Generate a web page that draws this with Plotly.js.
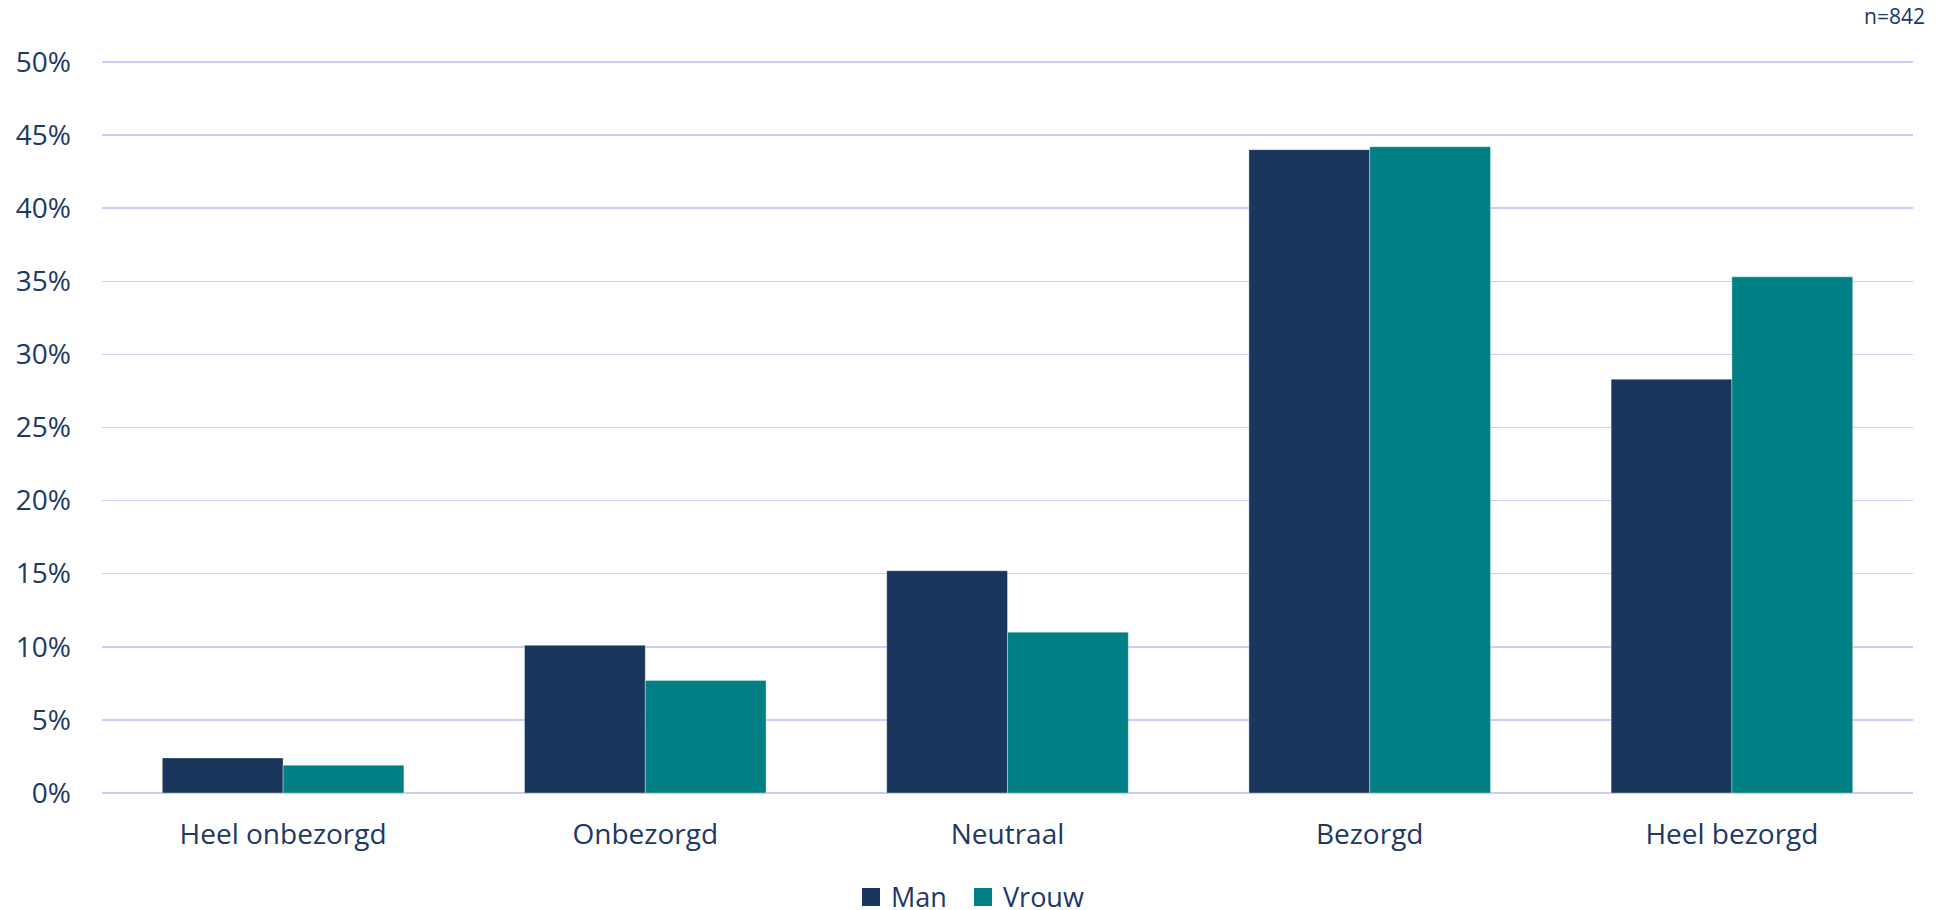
<!DOCTYPE html>
<html>
<head>
<meta charset="utf-8">
<script src="https://cdn.plot.ly/plotly-3.0.1.min.js"></script>
<style>html,body{margin:0;padding:0;background:#fff;}#chart{width:1950px;height:910px;}</style>
</head>
<body>
<div id="chart"></div>
<script>
const categories = ["Heel onbezorgd", "Onbezorgd", "Neutraal", "Bezorgd", "Heel bezorgd"];
const seriesNames = ["Man", "Vrouw"];
const manValues = [2.4, 10.1, 15.2, 44.0, 28.3];
const vrouwValues = [1.9, 7.7, 11.0, 44.2, 35.3];
const yTickVals = [0, 5, 10, 15, 20, 25, 30, 35, 40, 45, 50];
const yTickText = ["0%", "5%", "10%", "15%", "20%", "25%", "30%", "35%", "40%", "45%", "50%"];
const sampleNote = "n=842";

const textColor = "#203864";
const gridColor = "#C8CEF7";
const seriesColors = ["#1B365D", "#008084"];
const fontFam = "'Open Sans', sans-serif";

const W = 1950, H = 910;
const M = {l: 102, r: 37, t: 59, b: 117};
const plotW = W - M.l - M.r, plotH = H - M.t - M.b;
const px = v => (v - M.l) / plotW;            // page x -> paper x
const py = v => (H - M.b - v) / plotH;        // page y -> paper y

const traces = [
  {
    type: "bar", name: seriesNames[0], x: categories, y: manValues,
    marker: {color: seriesColors[0], line: {color: "rgba(255,255,255,0.35)", width: 1}},
    hoverinfo: "skip"
  },
  {
    type: "bar", name: seriesNames[1], x: categories, y: vrouwValues,
    marker: {color: seriesColors[1], line: {color: "rgba(255,255,255,0.35)", width: 1}},
    hoverinfo: "skip"
  }
];

// custom legend (square swatches like the reference)
const legendItems = [{sq: 862, tx: 890}, {sq: 974, tx: 1002}];
const shapes = legendItems.map((it, i) => ({
  type: "rect", xref: "paper", yref: "paper",
  x0: px(it.sq), x1: px(it.sq + 18), y0: py(906), y1: py(888),
  fillcolor: seriesColors[i], line: {width: 0}
}));
const legendAnn = legendItems.map((it, i) => ({
  text: seriesNames[i], xref: "paper", yref: "paper",
  x: px(it.tx), xanchor: "left", y: py(896), yanchor: "middle",
  height: 26, valign: "middle", borderpad: 0,
  showarrow: false, font: {family: fontFam, size: 27, color: textColor}
}));

const layout = {
  width: W, height: H,
  margin: {l: M.l, r: M.r, t: M.t, b: M.b, pad: 0},
  paper_bgcolor: "#ffffff", plot_bgcolor: "#ffffff",
  font: {family: fontFam, color: textColor, size: 28},
  barmode: "group",
  bargap: 0.333,
  bargroupgap: 0,
  xaxis: {
    type: "category",
    showgrid: false, zeroline: false, showline: false,
    ticks: "", ticklabelstandoff: 22,
    tickfont: {family: fontFam, size: 28, color: textColor}
  },
  yaxis: {
    range: [0, 50.2],
    tickvals: yTickVals, ticktext: yTickText,
    showgrid: true, gridcolor: gridColor, gridwidth: 1.5,
    zeroline: true, zerolinecolor: gridColor, zerolinewidth: 1.5,
    showline: false, ticks: "", ticklabelstandoff: 30,
    tickfont: {family: fontFam, size: 28, color: textColor}
  },
  showlegend: false,
  shapes: shapes,
  annotations: [
    {
      text: sampleNote, xref: "paper", yref: "paper",
      x: 1.008, xanchor: "right", y: 1, yanchor: "bottom", yshift: 27,
      showarrow: false,
      font: {family: fontFam, size: 21, color: textColor}
    }
  ].concat(legendAnn)
};

Plotly.newPlot("chart", traces, layout, {displayModeBar: false, staticPlot: true});
</script>
</body>
</html>
